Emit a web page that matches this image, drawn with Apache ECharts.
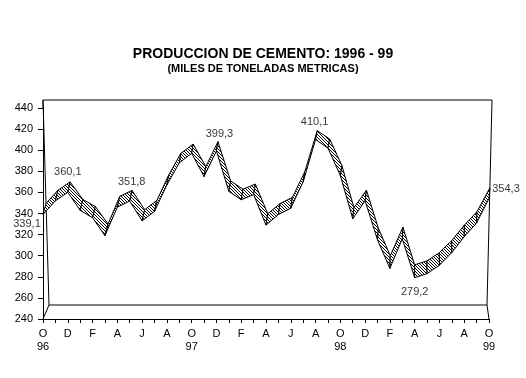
<!DOCTYPE html>
<html><head><meta charset="utf-8">
<script src="https://cdn.jsdelivr.net/npm/echarts@6/dist/echarts.min.js"></script>
<style>html,body{margin:0;padding:0;background:#fff}#c{width:526px;height:378px}</style>
</head><body><div id="c"></div>
<script>
// ---- data ----
const categories = ['Oct-96','Nov-96','Dic-96','Ene-97','Feb-97','Mar-97','Abr-97','May-97','Jun-97','Jul-97','Ago-97','Sep-97',
  'Oct-97','Nov-97','Dic-97','Ene-98','Feb-98','Mar-98','Abr-98','May-98','Jun-98','Jul-98','Ago-98','Sep-98',
  'Oct-98','Nov-98','Dic-98','Ene-99','Feb-99','Mar-99','Abr-99','May-99','Jun-99','Jul-99','Ago-99','Sep-99','Oct-99'];
const production = [339.1, 352, 360.1, 343, 336, 319, 346, 351.8, 333, 342, 367, 388,
  397, 375, 399.3, 361, 353, 358, 329, 339, 345, 370, 410.1, 402,
  376, 335, 352, 315, 288, 316, 279.2, 283, 291, 303, 318, 331, 354.3];
const tickLabels = ['O\n96','','D','','F','','A','','J','','A','',
  'O\n97','','D','','F','','A','','J','','A','',
  'O\n98','','D','','F','','A','','J','','A','',
  'O\n99'];
const yTicks = [240, 260, 280, 300, 320, 340, 360, 380, 400, 420, 440];
const labeledIdx = [0, 2, 7, 14, 22, 30, 36];
const titleText = 'PRODUCCION DE CEMENTO: 1996 - 99';
const subtitleText = '(MILES DE TONELADAS METRICAS)';

// ---- layout / style ----
const GL = 43, GT = 108, GR = 489, GB = 319;
const OFF = {tl: [0, -8], tr: [3, -8], bl: [6, -14], br: [-2, -14]};
function backOffset(x, y) {
  const u = (x - GL) / (GR - GL), v = (y - GT) / (GB - GT);
  const tx = OFF.tl[0] * (1 - u) + OFF.tr[0] * u, ty = OFF.tl[1] * (1 - u) + OFF.tr[1] * u;
  const bx = OFF.bl[0] * (1 - u) + OFF.br[0] * u, by = OFF.bl[1] * (1 - u) + OFF.br[1] * u;
  return [tx * (1 - v) + bx * v, ty * (1 - v) + by * v];
}
const pc = document.createElement('canvas');
pc.width = 3; pc.height = 3;
const g = pc.getContext('2d');
g.fillStyle = '#fff'; g.fillRect(0, 0, 3, 3);
g.fillStyle = '#000';
for (let k = 0; k < 3; k++) g.fillRect(k, k, 1, 1);
const hatch = {image: pc, repeat: 'repeat'};
const FONT = 'Arial, "Liberation Sans", sans-serif';

const labelOffsets = {0: [-16, 10], 2: [0, -20], 7: [2, -19], 14: [3, -17], 22: [-1, -18], 30: [0, 14], 36: [17, -9]};

const chart = echarts.init(document.getElementById('c'), null, {renderer: 'canvas'});
const yMin = yTicks[0], yMax = yTicks[yTicks.length - 1];
chart.setOption({
  animation: false,
  backgroundColor: '#fff',
  title: [
    {text: titleText, left: 'center', top: 42, textStyle: {fontFamily: FONT, fontSize: 14, fontWeight: 'bold', color: '#000'}},
    {text: subtitleText, left: 'center', top: 58, textStyle: {fontFamily: FONT, fontSize: 11, fontWeight: 'bold', color: '#000'}}
  ],
  grid: {left: GL, top: GT, width: GR - GL, height: GB - GT, containLabel: false},
  xAxis: {
    type: 'category', data: categories, boundaryGap: false,
    axisLine: {show: true, lineStyle: {color: '#000', width: 1}},
    axisTick: {show: true, interval: 0, length: 4, lineStyle: {color: '#000'}},
    axisLabel: {interval: 0, margin: 8, color: '#000', fontFamily: FONT, fontSize: 11, lineHeight: 13,
      formatter: (v, i) => tickLabels[i]},
    splitLine: {show: false}
  },
  yAxis: {
    type: 'value', min: yMin, max: yMax, interval: 20,
    axisLine: {show: true, lineStyle: {color: '#000', width: 1}},
    axisTick: {show: true, length: 5, lineStyle: {color: '#000'}},
    axisLabel: {margin: 10, color: '#000', fontFamily: FONT, fontSize: 11},
    splitLine: {show: false}
  },
  graphic: [
    {type: 'polygon', z: 0, shape: {points: [
      [GL + OFF.tl[0], GT + OFF.tl[1]], [GR + OFF.tr[0], GT + OFF.tr[1]],
      [GR + OFF.br[0], GB + OFF.br[1]], [GL + OFF.bl[0], GB + OFF.bl[1]]]},
      style: {fill: 'none', stroke: '#000', lineWidth: 1}},
    {type: 'line', z: 0, shape: {x1: GL, y1: GB, x2: GL + OFF.bl[0], y2: GB + OFF.bl[1]}, style: {stroke: '#000', lineWidth: 1}},
    {type: 'line', z: 0, shape: {x1: GR, y1: GB, x2: GR + OFF.br[0], y2: GB + OFF.br[1]}, style: {stroke: '#000', lineWidth: 1}},
    {type: 'line', z: 0, shape: {x1: GL, y1: GT, x2: GL + OFF.tl[0], y2: GT + OFF.tl[1]}, style: {stroke: '#000', lineWidth: 1}}
  ],
  series: [
    {
      type: 'custom', clip: false, z: 3,
      data: production.map((v, i) => [i, v]),
      renderItem: function (params, api) {
        const i = api.value(0);
        if (i >= production.length - 1) return null;
        const p0 = api.coord([i, api.value(1)]);
        const p1 = api.coord([i + 1, production[i + 1]]);
        const o0 = backOffset(p0[0], p0[1]), o1 = backOffset(p1[0], p1[1]);
        const b0 = [p0[0] + o0[0], p0[1] + o0[1]], b1 = [p1[0] + o1[0], p1[1] + o1[1]];
        return {
          type: 'polygon',
          shape: {points: [p0, p1, b1, b0]},
          style: {fill: hatch, stroke: '#000', lineWidth: 1}
        };
      }
    },
    {
      type: 'scatter', z: 4, symbolSize: 0, silent: true,
      data: labeledIdx.map(i => ({
        value: [i, production[i]],
        label: {show: true, position: 'inside', offset: labelOffsets[i]}
      })),
      label: {color: '#000', fontFamily: FONT, fontSize: 11,
        formatter: p => p.value[1].toFixed(1).replace('.', ',')}
    }
  ]
});
</script></body></html>
